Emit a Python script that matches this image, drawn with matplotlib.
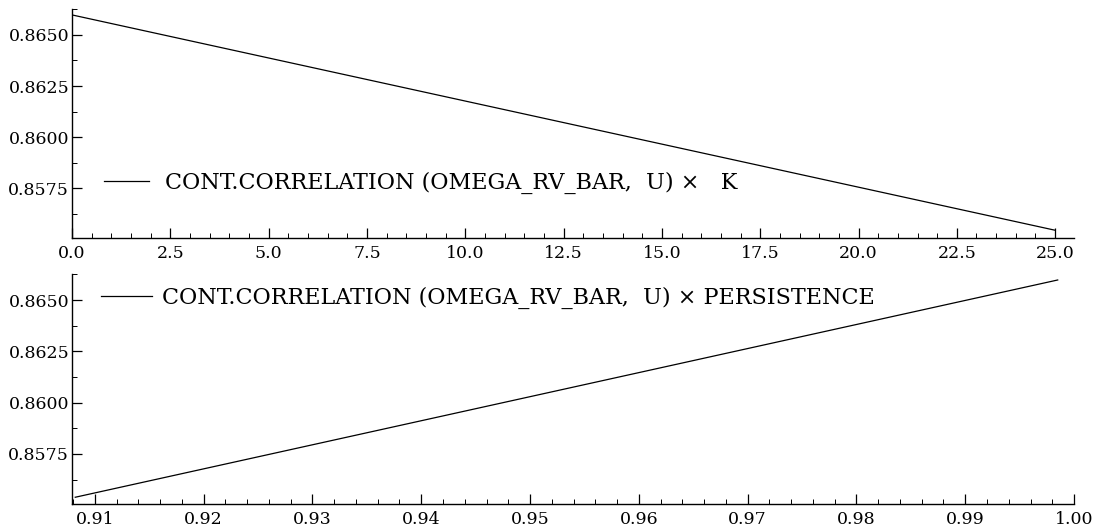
import matplotlib
matplotlib.use("Agg")
import matplotlib.pyplot as plt
from matplotlib.ticker import MultipleLocator, FormatStrFormatter

plt.rcParams["font.family"] = ["DejaVu Serif"]

# contemporaneous correlation of omega_rv_bar and u, swept over k and persistence
k_vals = [0.0, 25.0]
corr_k = [0.86598, 0.85544]
persist_vals = [0.9082, 0.9985]
corr_persist = [0.85539, 0.86598]

label_k = "CONT.CORRELATION (OMEGA_RV_BAR,  U) \u00d7   K"
label_p = "CONT.CORRELATION (OMEGA_RV_BAR,  U) \u00d7 PERSISTENCE"

fig = plt.figure(figsize=(11.01, 5.32), dpi=100)
ax1 = fig.add_axes([0.0654, 0.5526, 0.9101, 0.4305])
ax2 = fig.add_axes([0.0654, 0.0526, 0.9101, 0.4323])


def style(ax):
    for side in ("top", "right"):
        ax.spines[side].set_visible(False)
    for side in ("left", "bottom"):
        ax.spines[side].set_linewidth(1.0)
    ax.tick_params(which="major", direction="in", length=7, width=0.9,
                   labelsize=12.5, pad=5)
    ax.tick_params(axis="y", which="major", pad=2)
    ax.tick_params(which="minor", direction="in", length=3.5, width=0.7)
    ax.yaxis.set_major_locator(MultipleLocator(0.0025))
    ax.yaxis.set_minor_locator(MultipleLocator(0.00125))
    ax.yaxis.set_major_formatter(FormatStrFormatter("%.4f"))
    ax.set_ylim(0.85506, 0.86627)


ax1.plot(k_vals, corr_k, color="black", lw=0.9, label=label_k)
style(ax1)
ax1.set_xlim(0, 25.48)
ax1.xaxis.set_major_locator(MultipleLocator(2.5))
ax1.xaxis.set_minor_locator(MultipleLocator(0.5))
ax1.xaxis.set_major_formatter(FormatStrFormatter("%.1f"))
ax1.legend(loc="center left", bbox_to_anchor=(0.032, 0.24), frameon=False,
           borderaxespad=0, borderpad=0, handlelength=2.0, handletextpad=0.75,
           fontsize=16)

ax2.plot(persist_vals, corr_persist, color="black", lw=0.9, label=label_p)
style(ax2)
ax2.set_xlim(0.9079, 1.0)
ax2.xaxis.set_major_locator(MultipleLocator(0.01))
ax2.xaxis.set_minor_locator(MultipleLocator(0.002))
ax2.xaxis.set_major_formatter(FormatStrFormatter("%.2f"))
ax2.legend(loc="center left", bbox_to_anchor=(0.029, 0.896), frameon=False,
           borderaxespad=0, borderpad=0, handlelength=2.3, handletextpad=0.45,
           fontsize=16)

fig.savefig("out.png", dpi=100)
